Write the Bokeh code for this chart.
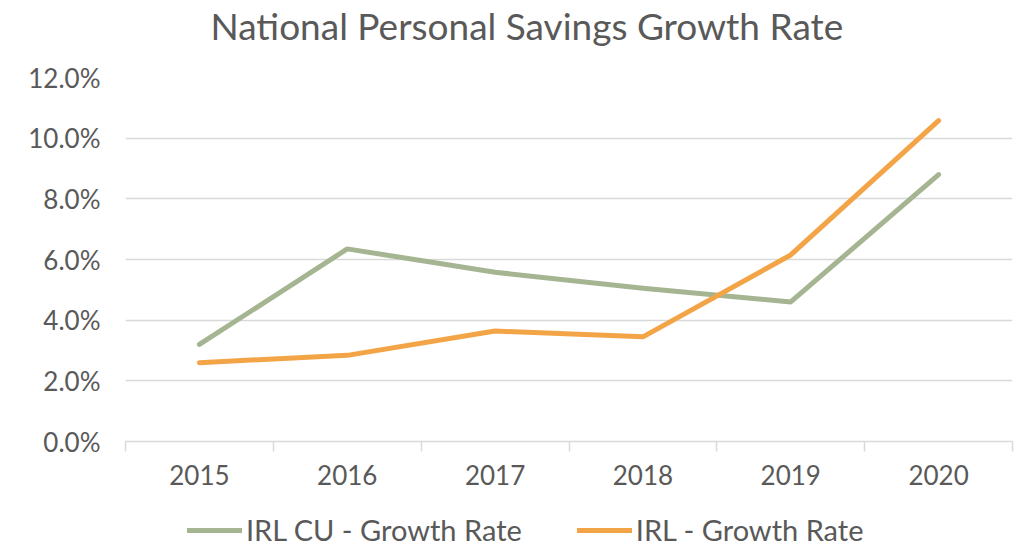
from bokeh.plotting import figure
from bokeh.layouts import column
from bokeh.models import (LinearAxis, FixedTicker, Legend, LegendItem, Range1d, Title,
                          ColumnDataSource, PrintfTickFormatter)
from bokeh.embed import file_html
from bokeh.resources import INLINE

years = ["2015", "2016", "2017", "2018", "2019", "2020"]
cu_growth = [3.2, 6.35, 5.58, 5.05, 4.6, 8.8]
irl_growth = [2.6, 2.84, 3.64, 3.45, 6.15, 10.58]
y_ticks = [0, 2, 4, 6, 8, 10, 12]
series_names = ["IRL CU - Growth Rate", "IRL - Growth Rate"]
chart_title = "National Personal Savings Growth Rate"

FONT = "Lato"
TXT = "#595959"
GRID = "#D9D9D9"
GREEN = "#A5B592"
ORANGE = "#F3A447"

xpos = [i + 0.5 for i in range(len(years))]
src = ColumnDataSource(dict(x=xpos, cu=cu_growth, irl=irl_growth))

p = figure(width=1023, height=505, output_backend="svg", toolbar_location=None,
           title_location=None,
           x_range=Range1d(0, len(years)), y_range=Range1d(0, 12),
           x_axis_location=None, y_axis_location=None,
           min_border_left=125, min_border_right=11, min_border_top=0,
           min_border_bottom=64)
p.outline_line_color = None
p.background_fill_color = "white"
p.border_fill_color = "white"

# blank spacer panel between the title and the plot area
spacer = Title(text=" ", text_font=FONT, text_font_size="20px", standoff=0)
p.add_layout(spacer, "above")

title = Title(text=chart_title, text_font=FONT, text_font_style="normal",
              text_font_size="37px", text_color=TXT, align="left", offset=85,
              vertical_align="top", standoff=4)
p.add_layout(title, "above")

p.xgrid.visible = False
p.ygrid.ticker = FixedTicker(ticks=y_ticks)
p.ygrid.grid_line_color = GRID
p.ygrid.grid_line_width = 1.3

yax = LinearAxis(ticker=FixedTicker(ticks=y_ticks),
                 formatter=PrintfTickFormatter(format="%.1f%%"))
yax.axis_line_color = None
yax.major_tick_line_color = None
yax.minor_tick_line_color = None
yax.major_label_standoff = 19
yax.major_label_text_font = FONT
yax.major_label_text_font_size = "26px"
yax.major_label_text_color = TXT
p.add_layout(yax, "left")

xax = LinearAxis(ticker=FixedTicker(ticks=xpos, minor_ticks=list(range(len(years) + 1))),
                 major_label_overrides={xv: yr for xv, yr in zip(xpos, years)})
xax.axis_line_color = GRID
xax.axis_line_width = 1.5
xax.major_tick_line_color = None
xax.minor_tick_line_color = GRID
xax.minor_tick_line_width = 1.5
xax.minor_tick_out = 10
xax.minor_tick_in = 0
xax.major_label_standoff = 13
xax.major_label_text_font = FONT
xax.major_label_text_font_size = "26px"
xax.major_label_text_color = TXT
p.add_layout(xax, "below")

p.line("x", "cu", source=src, line_color=GREEN, line_width=5, line_cap="round", line_join="round")
p.line("x", "irl", source=src, line_color=ORANGE, line_width=5, line_cap="round", line_join="round")

# legend strip: same series drawn out of view so only their legend keys show
lg = figure(width=1023, height=42, output_backend="svg", toolbar_location=None,
            x_range=Range1d(0, len(years)), y_range=Range1d(100, 101),
            x_axis_location=None, y_axis_location=None,
            min_border_left=0, min_border_right=0, min_border_top=0, min_border_bottom=0)
lg.outline_line_color = None
lg.xgrid.visible = False
lg.ygrid.visible = False
l_cu = lg.line("x", "cu", source=src, line_color=GREEN, line_width=5, line_cap="round")
l_irl = lg.line("x", "irl", source=src, line_color=ORANGE, line_width=5, line_cap="round")

legend = Legend(items=[LegendItem(label=series_names[0], renderers=[l_cu]),
                       LegendItem(label=series_names[1], renderers=[l_irl])],
                orientation="horizontal", location=(62, 0))
legend.padding = 0
legend.margin = 0
legend.spacing = 55
legend.glyph_width = 55
legend.glyph_height = 30
legend.label_standoff = 4
legend.label_text_font = FONT
legend.label_text_font_size = "29px"
legend.label_text_color = TXT
legend.border_line_color = None
legend.background_fill_alpha = 0
lg.add_layout(legend, "center")

layout = column(p, lg, spacing=0)
open("out.html", "w").write(file_html(layout, INLINE))
